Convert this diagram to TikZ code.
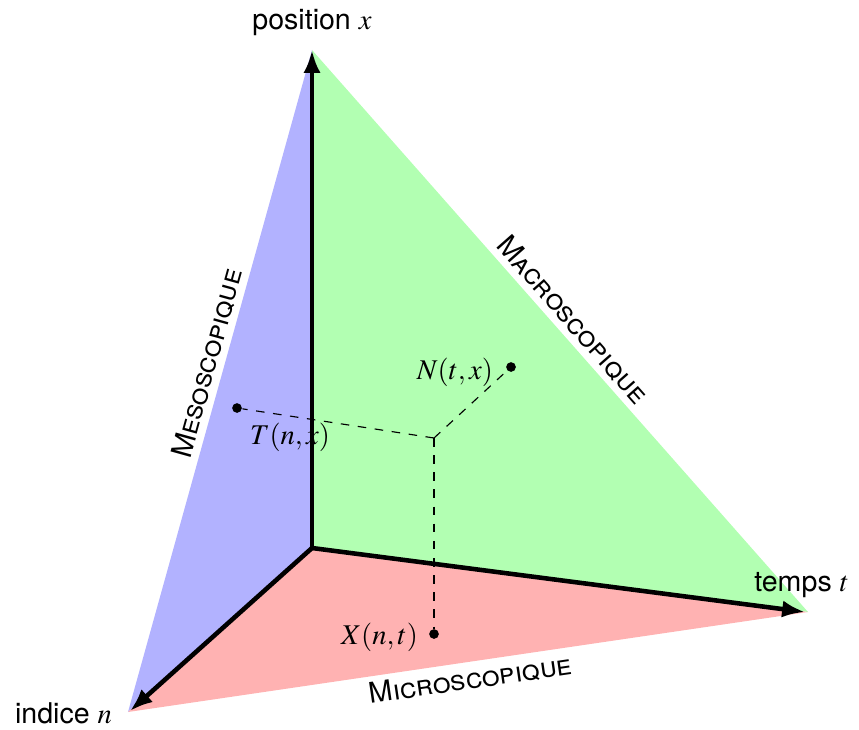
\documentclass[tikz,border=0pt]{standalone}
\usepackage{mathptmx}
\usepackage{fontspec}
\setmainfont{TeX Gyre Heros}
\usetikzlibrary{arrows.meta}

\begin{document}
\begin{tikzpicture}[x=0.35pt,y=-0.35pt]
    \useasboundingbox (0,0) rectangle (859,729);
    % sommets du triedre
    \coordinate (O) at (312,548);
    \coordinate (xtop) at (312,50);
    \coordinate (tend) at (808,612);
    \coordinate (nend) at (128,712);
    \coordinate (C) at (434,438);
    % trois faces
    \fill[blue!30] (O) -- (xtop) -- (nend) -- cycle;
    \fill[green!30] (O) -- (xtop) -- (tend) -- cycle;
    \fill[red!30] (O) -- (tend) -- (nend) -- cycle;
    % echelles le long des aretes
    \path (nend) -- (xtop) node[pos=0.52, sloped, above, inner sep=2pt] {\textsc{Mesoscopique}};
    \path (xtop) -- (tend) node[pos=0.5, sloped, above, inner sep=2pt] {\textsc{Macroscopique}};
    \path (nend) -- (tend) node[pos=0.5, sloped, below, inner sep=2pt] {\textsc{Microscopique}};
    % projections du point C
    \foreach \nom/\x/\y in {N/511/367, T/237/408, X/434/634} {
        \node[circle, fill, inner sep=1.2pt] (\nom) at (\x,\y) {};
        \draw[dashed, thin] (C) -- (\nom);
    }
    \node[anchor=east] (Nlab) at (503,372) {$N(t,x)$};
    \node (Tlab) at (290,437) {$T(n,x)$};
    \node[anchor=east] (Xlab) at (428,637) {$X(n,t)$};
    % axes
    \draw[line width=1.6pt, -{Latex[length=8pt]}] (O) -- (xtop);
    \draw[line width=1.6pt, -{Latex[length=8pt]}] (O) -- (805,612);
    \draw[line width=1.6pt, -{Latex[length=8pt]}] (O) -- (130,711);
    \node (xlab) at (312,23) {position $x$};
    \node[anchor=east] (tlab) at (859,585) {temps $t$};
    \node[anchor=east] (nlab) at (122,713) {indice $n$};
\end{tikzpicture}
\end{document}
